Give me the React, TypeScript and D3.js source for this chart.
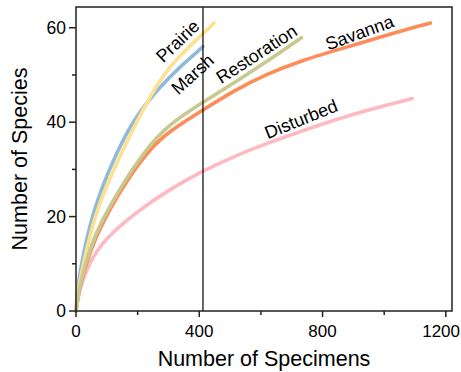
import React, { useEffect, useRef } from 'react';
import * as d3 from 'd3';

type Pt = [number, number];

// rarefaction curves: [specimens, species]
const marsh: Pt[] = [[0, 0], [5, 4.5], [16, 9.4], [35, 15.5], [67, 23.5], [135, 34.1], [192, 41.1], [272, 47.5], [337, 51.7], [412, 56]];
const prairie: Pt[] = [[0, 0], [6, 4], [22, 9.4], [45, 16], [78, 23.5], [151, 34.1], [205, 41.1], [272, 49.2], [337, 54.2], [410, 58.6], [448, 61]];
const restoration: Pt[] = [[0, 0], [8, 4], [27, 9.4], [60, 16], [119, 23.5], [222, 34.1], [305, 39.7], [403, 43.9], [510, 48.2], [619, 52.8], [732, 57.9]];
const savanna: Pt[] = [[0, 0], [8, 3.8], [30, 9.4], [60, 15.2], [128, 24], [232, 34], [305, 38.2], [412, 42.6], [510, 46.6], [619, 50.2], [727, 53], [899, 56.3], [1008, 58.4], [1116, 60.5], [1150, 61]];
const disturbed: Pt[] = [[0, 0], [10, 4.5], [43, 10.2], [89, 15], [195, 21], [305, 25.8], [403, 29.4], [510, 32.7], [619, 35.5], [727, 38], [835, 40.4], [943, 42.5], [1091, 45]];

// drawing order (last on top)
const seriesNames = ['Disturbed', 'Savanna', 'Marsh', 'Prairie', 'Restoration'];
const seriesData: Pt[][] = [disturbed, savanna, marsh, prairie, restoration];
const seriesColors = ['#ffb9c2', '#fc8d59', '#8fbadb', '#fee08f', '#c8c98f'];

const xTicks = [0, 200, 400, 600, 800, 1000, 1200];
const yTicks = [0, 10, 20, 30, 40, 50, 60];
const xLabelled = [0, 400, 800, 1200];
const yLabelled = [0, 20, 40, 60];
const cutoff = 412;

const FONT = '"Liberation Sans", Arial, Helvetica, sans-serif';

const App: React.FC = () => {
  const svgRef = useRef<SVGSVGElement | null>(null);

  useEffect(() => {
    if (!svgRef.current) return;
    const W = 461;
    const H = 372;
    const m = { top: 7, right: 9, bottom: 61, left: 76 };

    const svg = d3.select(svgRef.current).attr('width', W).attr('height', H);
    svg.selectAll('*').remove();

    const x = d3.scaleLinear().domain([0, 1220]).range([m.left, W - m.right]);
    const y = d3.scaleLinear().domain([0, 64.4]).range([H - m.bottom, m.top]);

    // curves
    const line = d3
      .line<Pt>()
      .x(d => x(d[0]))
      .y(d => y(d[1]))
      .curve(d3.curveBasis);

    seriesData.forEach((s, i) => {
      svg
        .append('path')
        .attr('class', seriesNames[i])
        .attr('d', line(s)!)
        .attr('fill', 'none')
        .attr('stroke', seriesColors[i])
        .attr('stroke-width', 3.6)
        .attr('stroke-linecap', 'round');
    });

    // cutoff line
    svg
      .append('line')
      .attr('x1', x(cutoff))
      .attr('x2', x(cutoff))
      .attr('y1', y(0))
      .attr('y2', m.top)
      .attr('stroke', '#000')
      .attr('stroke-width', 1.2);

    // frame
    svg
      .append('rect')
      .attr('x', m.left)
      .attr('y', m.top)
      .attr('width', W - m.right - m.left)
      .attr('height', H - m.bottom - m.top)
      .attr('fill', 'none')
      .attr('stroke', '#222')
      .attr('stroke-width', 1.5);

    // x axis
    const gx = svg.append('g').attr('transform', `translate(0,${y(0)})`);
    xTicks.forEach(t => {
      const major = xLabelled.includes(t);
      gx.append('line')
        .attr('x1', x(t))
        .attr('x2', x(t))
        .attr('y1', 0)
        .attr('y2', major ? 6 : 4)
        .attr('stroke', '#222')
        .attr('stroke-width', 1.5);
      if (major) {
        // last label would run off the page, so pin it to the right edge
        const last = t === xTicks[xTicks.length - 1];
        gx.append('text')
          .attr('x', last ? W - 1 : x(t))
          .attr('y', 25.5)
          .attr('text-anchor', last ? 'end' : 'middle')
          .attr('font-size', 17)
          .attr('font-family', FONT)
          .text(String(t));
      }
    });

    // y axis
    const gy = svg.append('g').attr('transform', `translate(${m.left},0)`);
    yTicks.forEach(t => {
      const major = yLabelled.includes(t);
      gy.append('line')
        .attr('x1', 0)
        .attr('x2', major ? -7 : -4)
        .attr('y1', y(t))
        .attr('y2', y(t))
        .attr('stroke', '#222')
        .attr('stroke-width', 1.5);
      if (major) {
        gy.append('text')
          .attr('x', -10)
          .attr('y', y(t))
          .attr('dy', '0.36em')
          .attr('text-anchor', 'end')
          .attr('font-size', 17.5)
          .attr('font-family', FONT)
          .text(String(t));
      }
    });

    // axis titles
    svg
      .append('text')
      .attr('x', (m.left + W - m.right) / 2)
      .attr('y', 366)
      .attr('text-anchor', 'middle')
      .attr('font-size', 21.5)
      .attr('font-family', FONT)
      .text('Number of Specimens');
    svg
      .append('text')
      .attr('transform', `translate(27,${(m.top + H - m.bottom) / 2}) rotate(-90)`)
      .attr('text-anchor', 'middle')
      .attr('font-size', 21.5)
      .attr('font-family', FONT)
      .text('Number of Species');

    // curve labels
    const labels: { text: string; cx: number; cy: number; angle: number }[] = [
      { text: 'Prairie', cx: 177.5, cy: 41, angle: -44 },
      { text: 'Marsh', cx: 192.5, cy: 74, angle: -42 },
      { text: 'Restoration', cx: 256.5, cy: 54, angle: -33 },
      { text: 'Savanna', cx: 359.5, cy: 32.5, angle: -20 },
      { text: 'Disturbed', cx: 301, cy: 119, angle: -22 },
    ];
    labels.forEach(l => {
      svg
        .append('text')
        .attr('transform', `translate(${l.cx},${l.cy}) rotate(${l.angle})`)
        .attr('text-anchor', 'middle')
        .attr('dy', '0.35em')
        .attr('font-size', 18)
        .attr('font-family', FONT)
        .text(l.text);
    });
  }, []);

  return <svg ref={svgRef} style={{ position: 'absolute', left: 0, top: 0 }} />;
};

export default App;
